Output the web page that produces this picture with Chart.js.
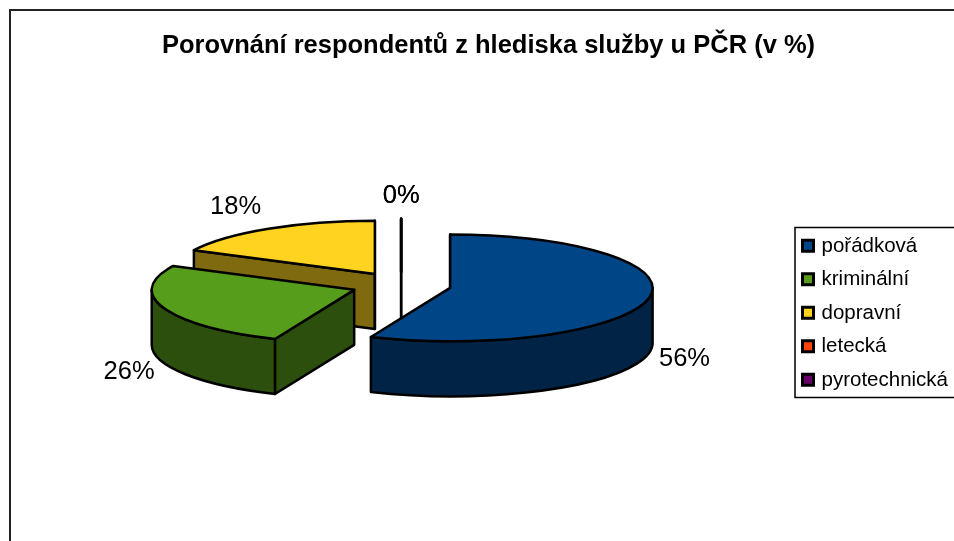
<!DOCTYPE html>
<html><head><meta charset="utf-8">
<style>html,body{margin:0;padding:0;background:#fff}#w{width:954px;height:541px}</style>
<script src="https://cdn.jsdelivr.net/npm/chart.js@4"></script>
</head><body><div id="w"><canvas id="c"></canvas></div>
<script>
const categories = ['pořádková','kriminální','dopravní','letecká','pyrotechnická'];
const shares = [56.4, 26, 17.6, 0, 0];
const topColors = ['#004586','#579D1C','#FFD320','#FF420E','#660066'];
const wallColors = ['#002346','#2D4F0E','#806A10','#80210A','#330033'];
const chartTitle = 'Porovnání respondentů z hlediska služby u PČR (v %)';

const FONT = '"Liberation Sans", Arial, sans-serif';
const TILT = 53.5/203, DEPTH = 55, EXPLODE = 50, RADIUS_SCALE = 203/116;
const labelNudges = [[36,60],[-35,64],[-33,-22],[0,-23],[0,-23]];
const drawOrder = [4,3,2,1,0];

const pie3d = {
  id:'pie3d',
  beforeDraw(chart){
    const c = chart.ctx;
    c.save();
    c.strokeStyle='#222'; c.lineWidth=2;
    c.beginPath(); c.moveTo(10,541); c.lineTo(10,10); c.lineTo(954,10); c.stroke();
    c.strokeStyle='#000'; c.lineWidth=1.5;
    c.strokeRect(795,227.5,165,170);
    c.restore();
  },
  afterLayout(chart){
    const l = chart.legend;
    l.left += 4; l.right += 4; l.top += 2.5; l.bottom += 2.5;
    chart.titleBlock.left += 3;
  },
  afterDraw(chart){
    const c = chart.ctx;
    c.save();
    c.strokeStyle='#000'; c.lineWidth=3;
    chart.legend.legendHitBoxes.forEach((hb,i)=>{
      const y = hb.top + hb.height/2 - 0.5;
      c.fillStyle = topColors[i];
      c.fillRect(802.5,y-5.5,11,11);
      c.strokeRect(802.5,y-5.5,11,11);
    });
    c.restore();
  },
  beforeDatasetsDraw(chart){
    const c = chart.ctx, meta = chart.getDatasetMeta(0), vals = chart.data.datasets[0].data;
    c.save();
    c.lineWidth = 2.5; c.strokeStyle = '#000'; c.lineJoin='round';
    const geo = meta.data.map(a=>{
      const p = a.getProps(['x','y','startAngle','endAngle','outerRadius'],true);
      const rx = p.outerRadius*RADIUS_SCALE, ry = rx*TILT;
      const mid = (p.startAngle+p.endAngle)/2;
      return {s:p.startAngle,e:p.endAngle,rx,ry,mid,cx:p.x+Math.cos(mid)*EXPLODE,cy:p.y+Math.sin(mid)*EXPLODE*TILT};
    });
    const fillStroke = col => { c.fillStyle=col; c.fill(); c.stroke(); };
    drawOrder.forEach(i=>{
      const g = geo[i];
      const pt = a => [g.cx+Math.cos(a)*g.rx, g.cy+Math.sin(a)*g.ry];
      const wall = a => {
        const q = pt(a);
        c.beginPath(); c.moveTo(g.cx,g.cy); c.lineTo(q[0],q[1]); c.lineTo(q[0],q[1]+DEPTH); c.lineTo(g.cx,g.cy+DEPTH); c.closePath();
        fillStroke(wallColors[i]);
      };
      const norm = a => ((a%(2*Math.PI))+2*Math.PI)%(2*Math.PI);
      if (Math.cos(g.s) < 1e-6) wall(g.s);
      if (Math.cos(g.e) > -1e-6 && g.e-g.s>1e-6) wall(g.e);
      let a0 = norm(g.s), a1 = a0+(g.e-g.s);
      [[0,Math.PI],[2*Math.PI,3*Math.PI]].forEach(w=>{
        const from = Math.max(a0,w[0]), to = Math.min(a1,w[1]);
        if (to>from){
          c.beginPath(); c.ellipse(g.cx,g.cy,g.rx,g.ry,0,from,to);
          c.ellipse(g.cx,g.cy+DEPTH,g.rx,g.ry,0,to,from,true); c.closePath();
          fillStroke(wallColors[i]);
        }
      });
      c.beginPath(); c.moveTo(g.cx,g.cy); c.ellipse(g.cx,g.cy,g.rx,g.ry,0,g.s,g.e); c.closePath();
      fillStroke(topColors[i]);
    });
    c.fillStyle='#000'; c.font='25.5px '+FONT; c.textAlign='center'; c.textBaseline='middle';
    geo.forEach((g,i)=>{
      const x = g.cx+Math.cos(g.mid)*g.rx+labelNudges[i][0];
      const y = g.cy+Math.sin(g.mid)*g.ry+labelNudges[i][1];
      c.fillText(Math.round(vals[i])+'%',x,y);
    });
    c.restore();
    return false;
  }
};

new Chart(document.getElementById('c'),{
  type:'pie',
  data:{labels:categories,datasets:[{data:shares,backgroundColor:topColors,borderColor:'#000',borderWidth:0}]},
  plugins:[pie3d],
  options:{
    responsive:true,maintainAspectRatio:false,animation:false,
    layout:{padding:{left:20,right:0,top:0,bottom:140}},
    plugins:{
      tooltip:{enabled:false},
      title:{display:true,text:chartTitle,color:'#000',font:{family:FONT,size:25.5,weight:'bold'},padding:{top:31,bottom:108}},
      legend:{position:'right',align:'end',
        labels:{
          color:'#000',font:{family:FONT,size:20.5},boxWidth:12,boxHeight:12,padding:13,
          generateLabels(chart){
            return categories.map((t,i)=>({text:t,fillStyle:'rgba(0,0,0,0)',strokeStyle:'rgba(0,0,0,0)',lineWidth:0,index:i,hidden:false}));
          }
        }
      }
    }
  }
});
</script></body></html>
